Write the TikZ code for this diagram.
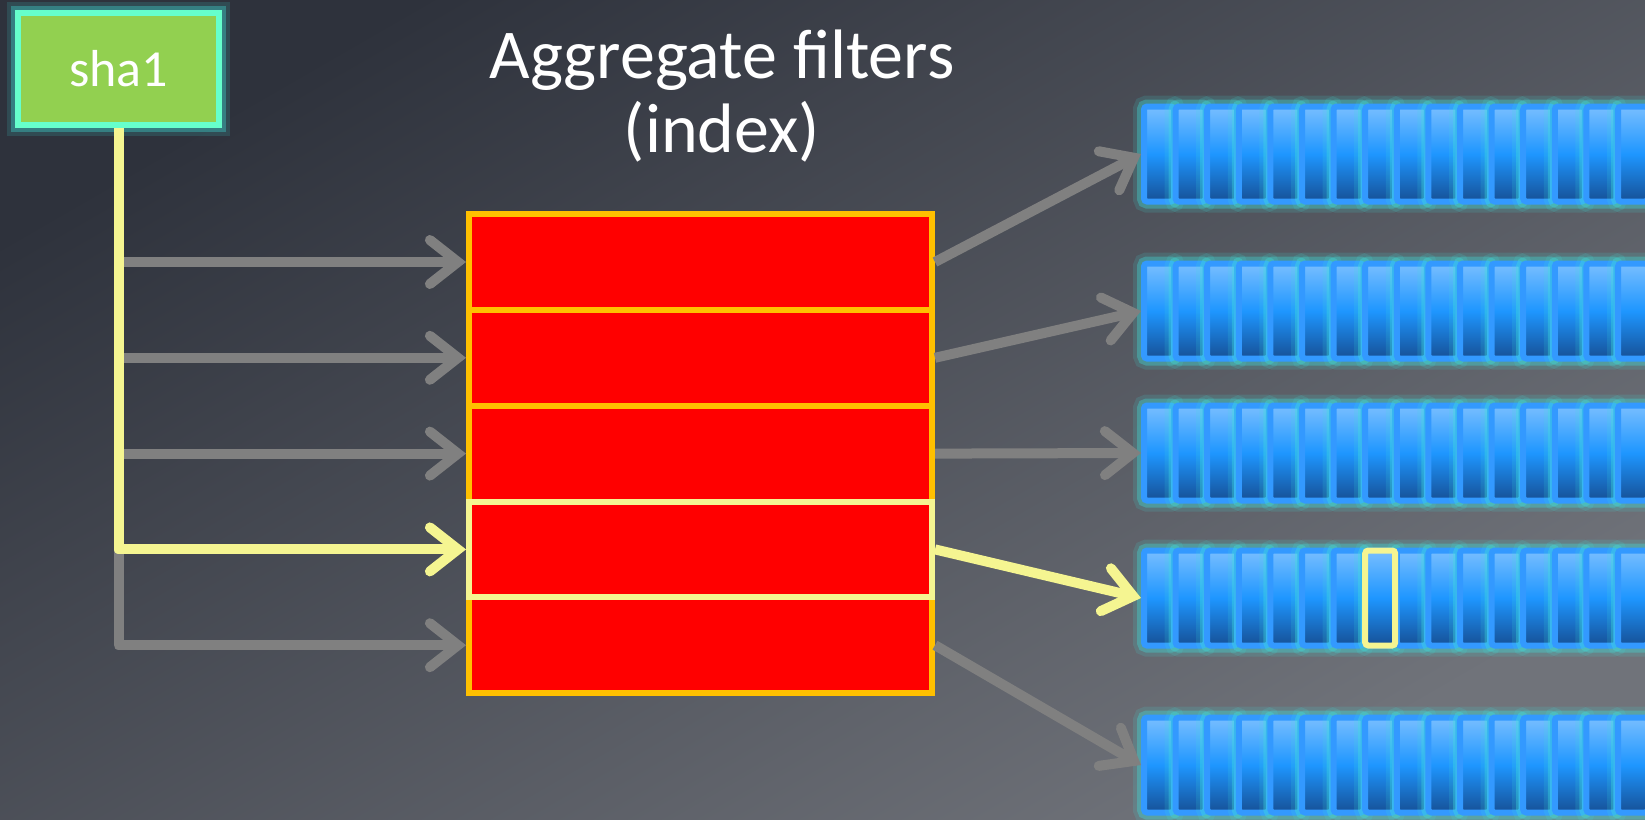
\documentclass[tikz,border=0pt]{standalone}
\usepackage{fontspec}
\setmainfont{Carlito}
\usetikzlibrary{arrows.meta}

\definecolor{bgtop}{RGB}{46,50,60}
\definecolor{bgbot}{RGB}{112,115,122}
\definecolor{shagreen}{RGB}{146,208,80}
\definecolor{shaedge}{RGB}{102,255,204}
\definecolor{glowc}{RGB}{64,224,220}
\definecolor{filtred}{RGB}{255,0,0}
\definecolor{filtedge}{RGB}{255,192,0}
\definecolor{hitc}{RGB}{245,245,145}
\definecolor{missc}{RGB}{128,128,128}
\definecolor{bitedge}{RGB}{51,153,255}
\definecolor{bittop}{RGB}{120,190,255}
\definecolor{bitmid}{RGB}{30,150,255}
\definecolor{bitbot}{RGB}{22,80,150}

\begin{document}
\begin{tikzpicture}[x=1pt, y=-1pt,
  glow/.style={preaction={draw=glowc, line width=22pt, draw opacity=.15},
               preaction={draw=glowc, line width=14pt, draw opacity=.35}},
  hash/.style={rectangle, glow, draw=shaedge, fill=shagreen, line width=6pt,
               minimum width=201pt, minimum height=112pt, text=white,
               font=\fontsize{52}{56}\selectfont},
  filter/.style={rectangle, draw=filtedge, fill=filtred, line width=6pt,
                 minimum width=463pt, minimum height=95.8pt},
  bit/.style={rectangle, rounded corners=3pt, draw=bitedge, line width=6pt,
              top color=bittop, bottom color=bitbot, middle color=bitmid,
              minimum width=30pt, minimum height=95pt, inner sep=0pt},
  chev/.tip={Straight Barb[length=28pt, width=44pt, line cap=round]},
  miss/.style={draw=missc, line width=10pt, line join=round, -chev},
  hit/.style={miss, draw=hitc},
  title/.style={text=white, align=center, font=\fontsize{70}{74}\selectfont}]

% slate backdrop
\path[top color=bgtop, bottom color=bgbot, shading angle=30] (0,0) rectangle (1645,819);
\useasboundingbox (0,0) rectangle (1645,819);

\node[hash] (sha1) at (118.5,69) {sha1};
\node[title, anchor=base] (head) at (722,152) {Aggregate filters\\(index)};

% stacked filters, the selected one outlined last
\foreach \i in {1,...,5}
  \node[filter] (filt\i) at (700.5,{166.2+95.8*\i}) {};
\node[filter, draw=hitc] (filtHit) at (filt4) {};

% bit arrays
\foreach \r/\y in {1/154, 2/311, 3/453, 4/598, 5/765}
  \foreach \c in {1,...,16}
    \node[bit, glow] (b\r-\c) at ({1159+31.6*(\c-1)},\y) {};
\node[bit, draw=hitc] (bitHit) at (b4-8) {};

% hash bus into the filters
\foreach \i in {1,2,3}
  \draw[miss] (sha1.south |- filt\i.west) -- (filt\i.west);
\draw[miss] (sha1.south |- filt4.west) |- (filt5.west);
\draw[hit] (sha1.south) |- (filt4.west);

% filters out to their arrays
\foreach \i in {1,2,3,5}
  \draw[miss] (filt\i.east) -- (b\i-1.west);
\draw[hit] (filt4.east) -- (b4-1.west);
\end{tikzpicture}
\end{document}
